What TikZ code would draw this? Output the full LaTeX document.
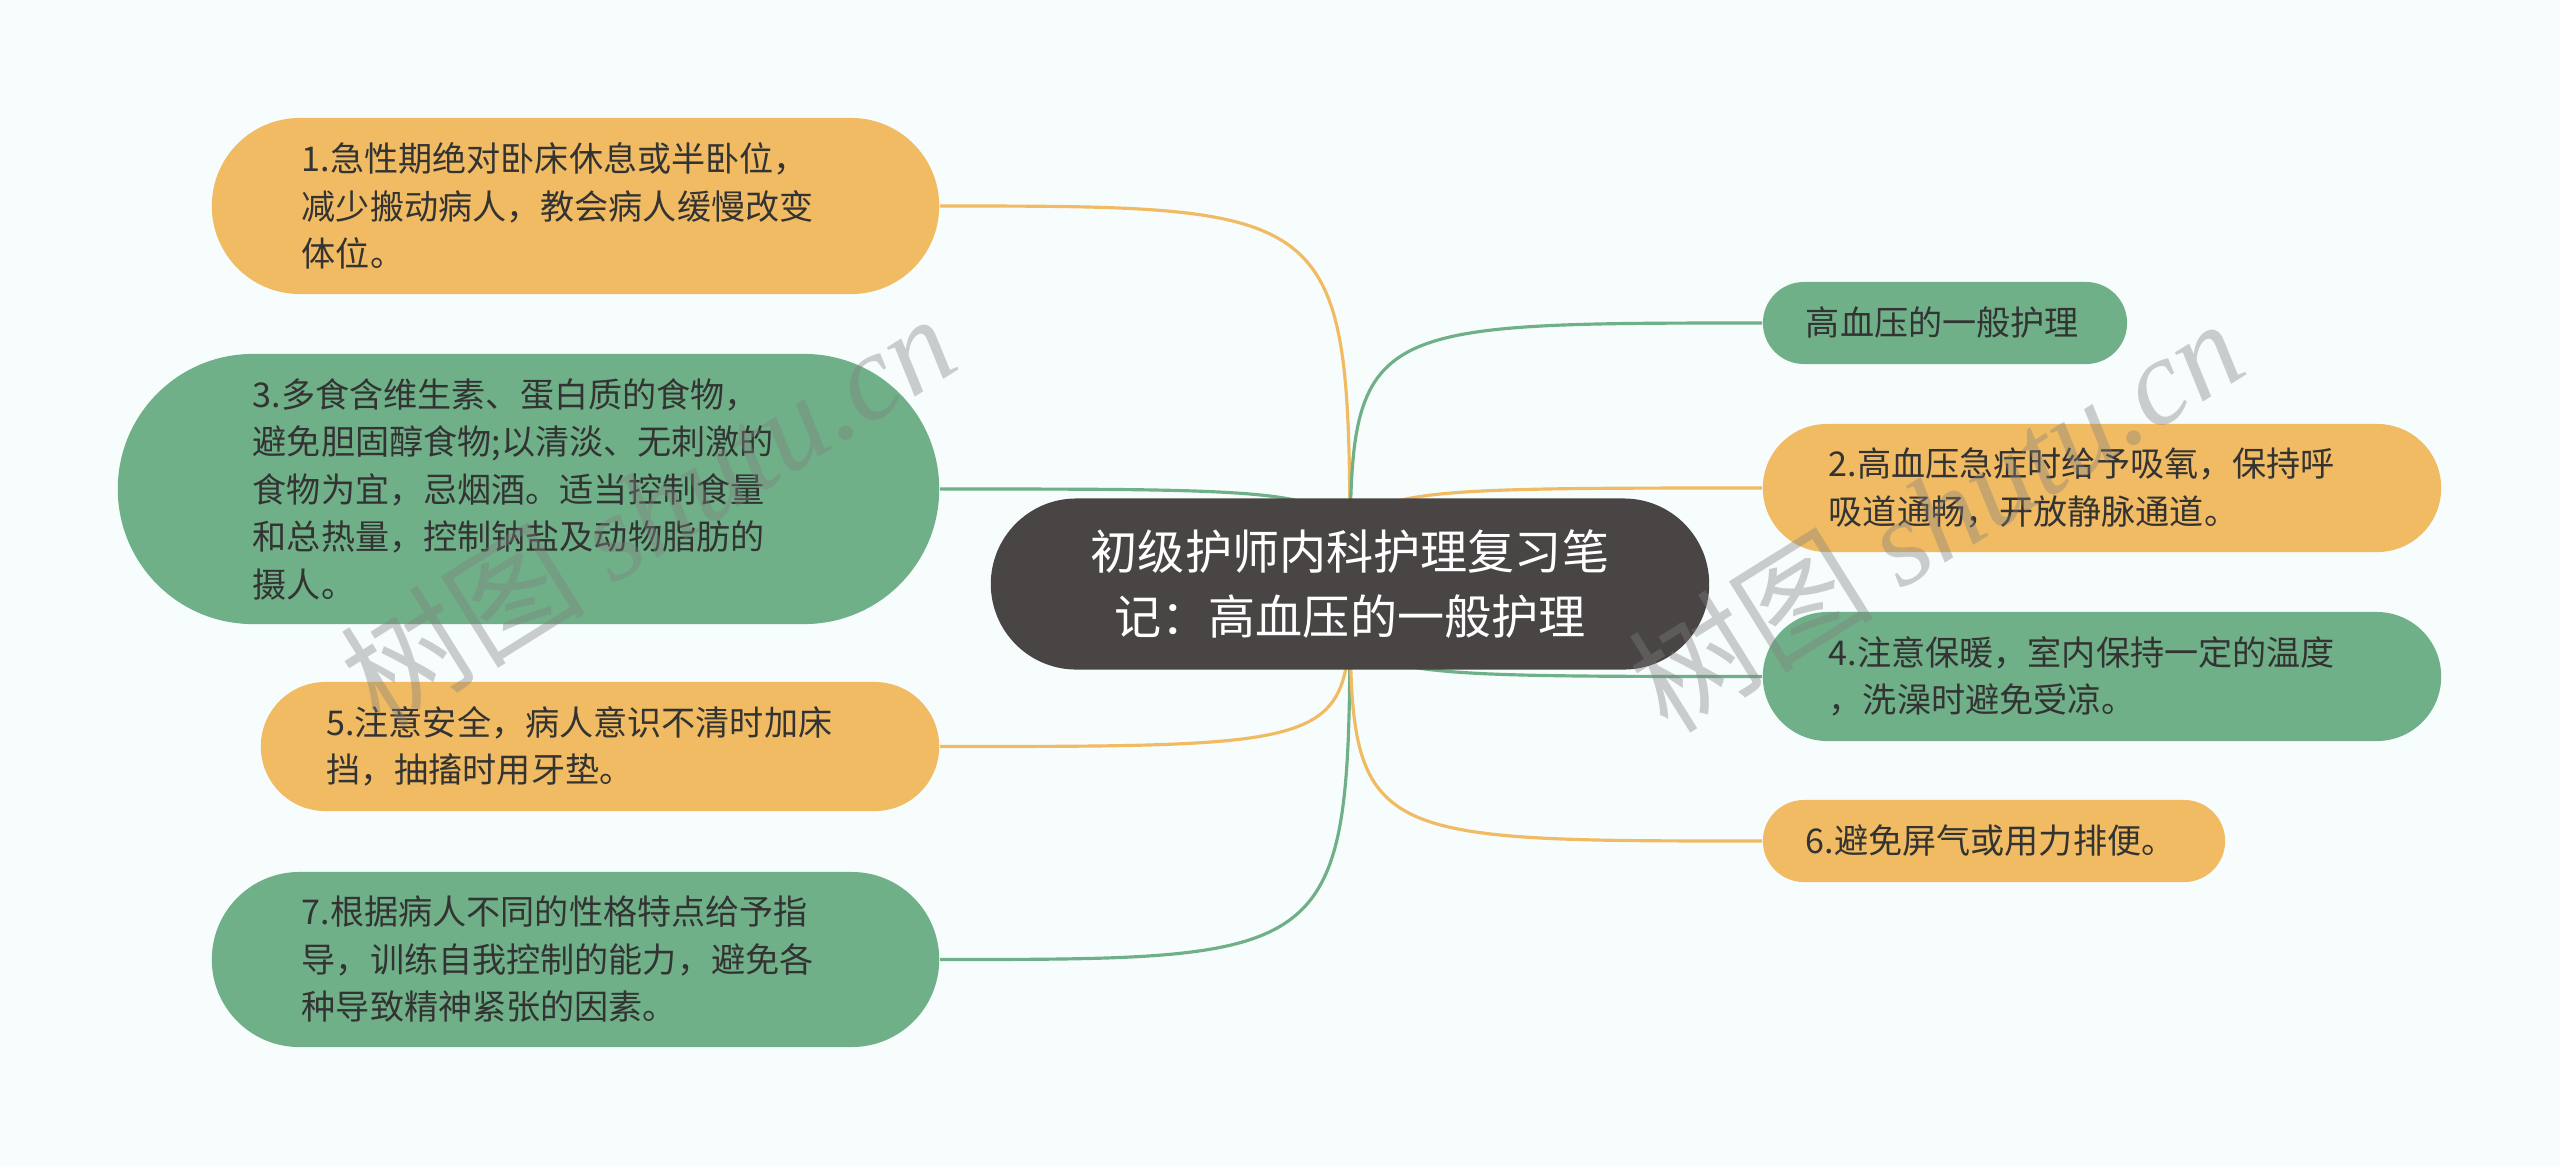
\documentclass[tikz,border=0pt]{standalone}
\usepackage{fontspec}
\newfontfamily\cjk{Noto Sans CJK SC}
\newfontfamily\wmserif{Liberation Serif}
\usetikzlibrary{backgrounds}
\definecolor{bgc}{HTML}{F7FCFC}
\definecolor{orangec}{HTML}{F0BB62}
\definecolor{greenc}{HTML}{6FB088}
\definecolor{darkc}{HTML}{4A4545}
\definecolor{txt}{HTML}{333333}
\begin{document}
\begin{tikzpicture}[x=0.01cm,y=-0.01cm,
  leaf/.style={inner sep=0pt, align=left, text=txt, font=\cjk\fontsize{9.7pt}{13.5pt}\selectfont},
  orangebox/.style={leaf, fill=orangec},
  greenbox/.style={leaf, fill=greenc},
  rootbox/.style={inner sep=0pt, align=center, fill=darkc, text=white, font=\cjk\fontsize{13.4pt}{18.5pt}\selectfont},
  link/.style={line width=0.9pt},
  wmark/.style={text=gray, text opacity=0.38, font=\cjk\fontsize{35pt}{40pt}\selectfont, rotate=32}
]
\useasboundingbox (0,0) rectangle (2560,1166);

% central node
\node[rootbox, minimum width=7.18cm, minimum height=1.71cm, rounded corners=0.855cm] (c) at (1350,584)
  {初级护师内科护理复习笔\\记：高血压的一般护理};

% left side
\node[orangebox, minimum width=7.27cm, minimum height=1.76cm, rounded corners=0.88cm, text width=5.47cm] (n1) at (575.5,206)
  {1.急性期绝对卧床休息或半卧位，\\减少搬动病人，教会病人缓慢改变\\体位。};
\node[greenbox, minimum width=8.21cm, minimum height=2.70cm, rounded corners=1.35cm, text width=5.51cm] (n3) at (528.5,489)
  {3.多食含维生素、蛋白质的食物，\\避免胆固醇食物;以清淡、无刺激的\\食物为宜，忌烟酒。适当控制食量\\和总热量，控制钠盐及动物脂肪的\\摄人。};
\node[orangebox, minimum width=6.78cm, minimum height=1.29cm, rounded corners=0.645cm, text width=5.47cm] (n5) at (600,746.5)
  {5.注意安全，病人意识不清时加床\\挡，抽搐时用牙垫。};
\node[greenbox, minimum width=7.27cm, minimum height=1.75cm, rounded corners=0.875cm, text width=5.47cm] (n7) at (575.5,959.5)
  {7.根据病人不同的性格特点给予指\\导，训练自我控制的能力，避免各\\种导致精神紧张的因素。};

% right side
\node[greenbox, minimum width=3.64cm, minimum height=0.82cm, rounded corners=0.41cm, text width=2.78cm] (n0) at (1945,323)
  {高血压的一般护理};
\node[orangebox, minimum width=6.78cm, minimum height=1.28cm, rounded corners=0.64cm, text width=5.46cm] (n2) at (2102,488)
  {2.高血压急症时给予吸氧，保持呼\\吸道通畅，开放静脉通道。};
\node[greenbox, minimum width=6.78cm, minimum height=1.29cm, rounded corners=0.645cm, text width=5.46cm] (n4) at (2102,676.5)
  {4.注意保暖，室内保持一定的温度\\，洗澡时避免受凉。};
\node[orangebox, minimum width=4.62cm, minimum height=0.82cm, rounded corners=0.41cm, text width=3.76cm] (n6) at (1994,841)
  {6.避免屏气或用力排便。};

% connectors
\begin{scope}[on background layer]
\fill[bgc] (0,0) rectangle (2560,1166);
\draw[link, orangec] (c.center) .. controls (c.center |- n1.east) .. (n1.east);
\draw[link, greenc]  (c.center) .. controls (c.center |- n3.east) .. (n3.east);
\draw[link, orangec] (c.center) .. controls (c.center |- n5.east) .. (n5.east);
\draw[link, greenc]  (c.center) .. controls (c.center |- n7.east) .. (n7.east);
\draw[link, greenc]  (c.center) .. controls (c.center |- n0.west) .. (n0.west);
\draw[link, orangec] (c.center) .. controls (c.center |- n2.west) .. (n2.west);
\draw[link, greenc]  (c.center) .. controls (c.center |- n4.west) .. (n4.west);
\draw[link, orangec] (c.center) .. controls (c.center |- n6.west) .. (n6.west);
\end{scope}

% watermarks
\node[wmark] (wm1) at (647,509) {树图 {\wmserif\itshape shutu.cn}};
\node[wmark] (wm2) at (1935,514) {树图 {\wmserif\itshape shutu.cn}};
\end{tikzpicture}
\end{document}
